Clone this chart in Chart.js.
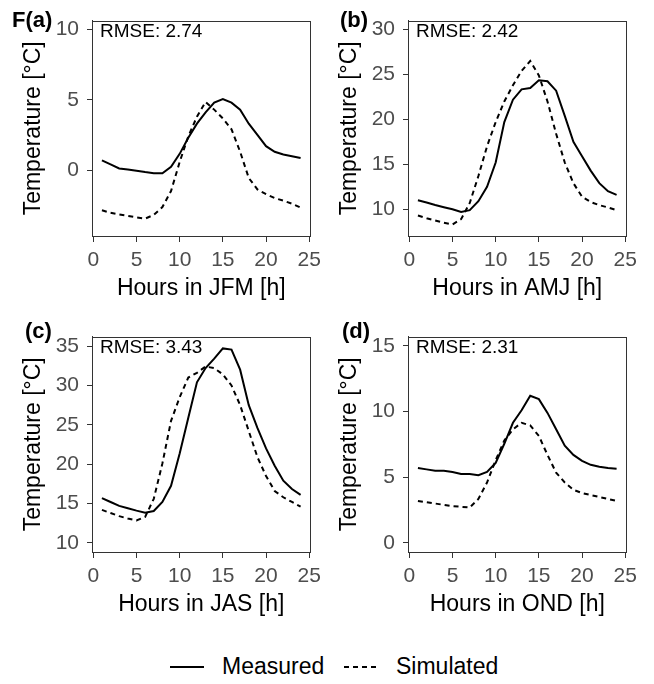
<!DOCTYPE html>
<html>
<head>
<meta charset="utf-8">
<script src="https://cdn.jsdelivr.net/npm/chart.js@4.4.0/dist/chart.umd.min.js"></script>
<style>
  html, body { margin: 0; padding: 0; background: #fff; }
  body { width: 654px; height: 684px; position: relative; overflow: hidden; font-family: "Liberation Sans", Arial, sans-serif; }
  canvas { position: absolute; }
  .plabel { position: absolute; font-weight: bold; font-size: 22px; color: #000; line-height: 1; white-space: nowrap; }
  .leg { position: absolute; font-size: 23px; color: #000; line-height: 1; white-space: nowrap; }
  .solid { position: absolute; height: 2px; background: #000; }
  .dash { position: absolute; height: 2px; background: repeating-linear-gradient(to right, #000 0, #000 5px, transparent 5px, transparent 9px); }
</style>
</head>
<body>
<canvas id="ca" width="327" height="300" style="left:0px;top:0px"></canvas>
<canvas id="cb" width="327" height="300" style="left:316px;top:0px"></canvas>
<canvas id="cc" width="327" height="300" style="left:0px;top:316px"></canvas>
<canvas id="cd" width="327" height="300" style="left:316px;top:316px"></canvas>

<div class="plabel" style="left:12px;top:9px">F(a)</div>
<div class="plabel" style="left:340px;top:9px">(b)</div>
<div class="plabel" style="left:25px;top:320px">(c)</div>
<div class="plabel" style="left:342px;top:320px">(d)</div>

<div class="solid" style="left:170px;top:666px;width:34px"></div>
<div class="leg" style="left:222px;top:655px">Measured</div>
<div class="dash" style="left:344px;top:666px;width:36px"></div>
<div class="leg" style="left:396px;top:655px">Simulated</div>

<script>
// ---- data ----
const hours = [1,2,3,4,5,6,7,8,9,10,11,12,13,14,15,16,17,18,19,20,21,22,23,24];
const xTicks = [0,5,10,15,20,25];

const measJFM = [0.69,0.4,0.11,0.03,-0.05,-0.15,-0.23,-0.23,0.23,1.15,2.3,3.3,4.1,4.8,5.05,4.8,4.3,3.3,2.5,1.7,1.3,1.1,0.98,0.85];
const simJFM  = [-2.87,-3.05,-3.17,-3.27,-3.37,-3.46,-3.2,-2.64,-1.5,0.57,2.4,3.8,4.85,4.3,3.67,2.9,1.3,-0.57,-1.38,-1.72,-2.0,-2.18,-2.4,-2.68];

const measAMJ = [11.0,10.75,10.47,10.23,10.0,9.7,9.9,10.9,12.5,15.2,19.7,22.2,23.35,23.5,24.35,24.25,23.2,20.4,17.5,15.9,14.3,12.9,12.0,11.6];
const simAMJ  = [9.3,9.0,8.75,8.5,8.3,8.9,10.7,13.7,17.0,19.7,22.0,23.8,25.4,26.5,24.9,22.0,18.4,15.2,12.9,11.4,10.8,10.45,10.2,9.9];

const measJAS = [15.7,15.2,14.7,14.4,14.1,13.85,14.05,15.2,17.25,21.35,25.9,30.4,32.2,33.4,34.7,34.55,32.0,27.5,24.6,22.0,19.8,17.9,16.85,16.1];
const simJAS  = [14.2,13.8,13.4,13.1,12.85,13.3,15.6,20.1,25.5,28.5,31.0,31.6,32.4,32.2,31.4,30.0,27.5,24.2,20.9,18.5,16.6,15.8,15.2,14.6];

const measOND = [5.7,5.6,5.5,5.5,5.4,5.25,5.25,5.15,5.4,6.1,7.55,9.15,10.1,11.2,10.95,9.9,8.65,7.4,6.7,6.25,5.95,5.8,5.7,5.65];
const simOND  = [3.2,3.1,3.0,2.9,2.8,2.75,2.7,3.35,4.6,6.3,7.8,8.65,9.15,8.95,8.15,6.7,5.35,4.6,4.05,3.8,3.65,3.5,3.35,3.2];

const yTicksJFM = [0,5,10];
const yTicksAMJ = [10,15,20,25,30];
const yTicksJAS = [10,15,20,25,30,35];
const yTicksOND = [0,5,10,15];

const rmseJFM = "RMSE: 2.74";
const rmseAMJ = "RMSE: 2.42";
const rmseJAS = "RMSE: 3.43";
const rmseOND = "RMSE: 2.31";

const xTitles = ["Hours in JFM [h]","Hours in AMJ [h]","Hours in JAS [h]","Hours in OND [h]"];
const yTitle = "Temperature [°C]";
const seriesNames = ["Measured","Simulated"];

// ---- drawing ----
const FONT = '"Liberation Sans", Arial, sans-serif';

const framePlugin = {
  id: 'frame',
  afterDraw(chart) {
    const a = chart.chartArea, ctx = chart.ctx;
    ctx.save();
    ctx.strokeStyle = '#333333';
    ctx.lineWidth = 1;
    ctx.strokeRect(Math.round(a.left) + 0.5, Math.round(a.top) + 0.5, Math.round(a.right - a.left) - 1, Math.round(a.bottom - a.top));
    const txt = chart.options.plugins.frame.text;
    ctx.fillStyle = '#000';
    ctx.font = '19px ' + FONT;
    ctx.textBaseline = 'middle';
    ctx.textAlign = 'left';
    ctx.fillText(txt, a.left + 8, a.top + 11);
    ctx.restore();
  }
};

function pts(vals) { return hours.map((h, i) => ({x: h, y: vals[i]})); }

function makeChart(id, meas, sim, yMin, yMax, yTicks, xTitle, rmse) {
  new Chart(document.getElementById(id), {
    type: 'line',
    data: {
      datasets: [
        { label: seriesNames[0], data: pts(meas), borderColor: '#000', borderWidth: 2, pointRadius: 0, fill: false, tension: 0 },
        { label: seriesNames[1], data: pts(sim), borderColor: '#000', borderWidth: 2, borderDash: [5,4], pointRadius: 0, fill: false, tension: 0 }
      ]
    },
    options: {
      responsive: false,
      animation: false,
      events: [],
      layout: { padding: { top: 13, right: 15, left: 0, bottom: 0 } },
      plugins: { legend: { display: false }, tooltip: { enabled: false }, frame: { text: rmse } },
      scales: {
        x: {
          type: 'linear', min: -0.15, max: 25.15,
          afterBuildTicks: s => { s.ticks = xTicks.map(v => ({value: v})); },
          afterFit: s => { s.height = 64; },
          grid: { display: true, drawOnChartArea: false, drawTicks: true, tickLength: 6, color: '#333333', lineWidth: 1 },
          border: { display: true, color: '#333333', width: 1 },
          ticks: { color: '#4d4d4d', font: { family: FONT, size: 21 }, padding: 6, maxRotation: 0, autoSkip: false },
          title: { display: true, text: xTitle, color: '#000', font: { family: FONT, size: 23, lineHeight: 1 }, padding: { top: 0, bottom: 0 } }
        },
        y: {
          type: 'linear', min: yMin, max: yMax,
          afterBuildTicks: s => { s.ticks = yTicks.map(v => ({value: v})); },
          afterFit: s => { s.width = 92; },
          grid: { display: true, drawOnChartArea: false, drawTicks: true, tickLength: 5, color: '#333333', lineWidth: 1 },
          border: { display: true, color: '#333333', width: 1 },
          ticks: { color: '#4d4d4d', font: { family: FONT, size: 21 }, padding: 8, autoSkip: false },
          title: { display: true, text: yTitle, color: '#000', font: { family: FONT, size: 23, lineHeight: 1 }, padding: { top: 22, bottom: 0 } }
        }
      }
    },
    plugins: [framePlugin]
  });
}

makeChart('ca', measJFM, simJFM, -4.7, 10.64, yTicksJFM, xTitles[0], rmseJFM);
makeChart('cb', measAMJ, simAMJ, 7.02, 31.0, yTicksAMJ, xTitles[1], rmseAMJ);
makeChart('cc', measJAS, simJAS, 8.85, 36.2, yTicksJAS, xTitles[2], rmseJAS);
makeChart('cd', measOND, simOND, -0.69, 15.71, yTicksOND, xTitles[3], rmseOND);
</script>
</body>
</html>
